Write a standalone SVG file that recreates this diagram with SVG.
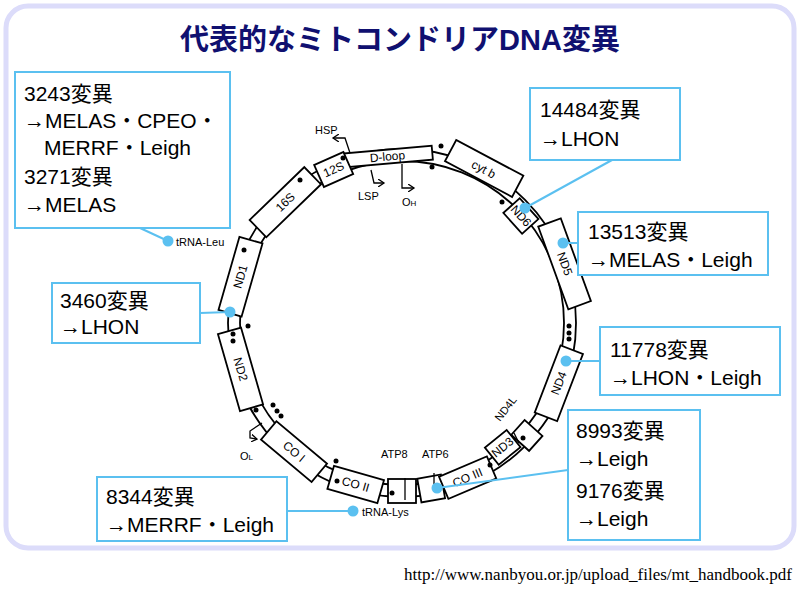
<svg xmlns="http://www.w3.org/2000/svg" width="800" height="589" viewBox="0 0 800 589">
<style>
.gene rect{fill:#fff;stroke:#000;stroke-width:1.8}
.gene text{font-family:"Liberation Sans",sans-serif;font-size:12px;text-anchor:middle}
.cb{fill:#fff;stroke:#5bc0f0;stroke-width:2}
.ct{font-family:"Liberation Sans","Noto Sans CJK JP",sans-serif;font-size:21px;fill:#000}
.ln{stroke:#5bc0f0;stroke-width:2;fill:none}
.dot{fill:#5bc0f0}
.sm{font-family:"Liberation Sans",sans-serif;font-size:11px}
.bd{fill:#000}
</style>
<defs>
<marker id="ah" markerWidth="8" markerHeight="8" refX="6" refY="4" orient="auto" markerUnits="userSpaceOnUse"><path d="M0,0 L6,4 L0,8" fill="none" stroke="#000" stroke-width="1.3"/></marker>
</defs>
<rect x="0" y="0" width="800" height="589" fill="#fff"/>
<rect x="6" y="6" width="788" height="542" rx="22" fill="#fff" stroke="#dcdcfa" stroke-width="5"/>
<text x="400" y="50" text-anchor="middle" font-family="'Liberation Sans','Noto Sans CJK JP',sans-serif" font-size="29" font-weight="bold" fill="#101070">代表的なミトコンドリアDNA変異</text>

<g id="ring" fill="none" stroke="#000" stroke-width="1.8">
<circle cx="402" cy="323" r="174"/>
<circle cx="402" cy="323" r="162"/>
</g>

<g id="genes">
<g class="gene" id="g-dloop" transform="rotate(355 402 323)"><rect x="357" y="149" width="90" height="14"/><text x="402" y="160">D-loop</text></g>
<g class="gene" id="g-12s" transform="rotate(336 402 323)"><rect x="386" y="143" width="32" height="24"/><text x="402" y="159">12S</text></g>
<g class="gene" id="g-16s" transform="rotate(316 402 323)"><rect x="364" y="143" width="76" height="24"/><text x="402" y="159">16S</text></g>
<g class="gene" id="g-nd1" transform="rotate(286 402 323)"><rect x="364" y="143" width="76" height="24"/><text x="402" y="159">ND1</text></g>
<g class="gene" id="g-nd2" transform="rotate(254 402 323)"><rect x="362" y="143" width="80" height="24"/><text x="402" y="159" transform="rotate(180 402 155)">ND2</text></g>
<g class="gene" id="g-co1" transform="rotate(220 402 323)"><rect x="369" y="143" width="66" height="24"/><text x="402" y="159" transform="rotate(180 402 155)">CO I</text></g>
<g class="gene" id="g-co2" transform="rotate(196 402 323)"><rect x="376" y="143" width="52" height="24"/><text x="402" y="159" transform="rotate(180 402 155)">CO II</text></g>
<g class="gene" id="g-atp8" transform="rotate(180 402 323)"><rect x="388" y="143" width="28" height="24"/></g>
<g class="gene" id="g-atp6" transform="rotate(170 402 323)"><rect x="390" y="143" width="24" height="24"/></g>
<g class="gene" id="g-co3" transform="rotate(157 402 323)"><rect x="376" y="143" width="52" height="24"/><text x="402" y="159" transform="rotate(180 402 155)">CO III</text></g>
<g class="gene" id="g-nd3" transform="rotate(141 402 323)"><rect x="388" y="152" width="28" height="22"/><text x="402" y="167" transform="rotate(180 402 163)">ND3</text></g>
<g class="gene" id="g-nd4l" transform="rotate(132 402 323)"><rect x="392" y="143" width="20" height="24"/></g>
<g class="gene" id="g-nd4" transform="rotate(111 402 323)"><rect x="366" y="143" width="72" height="24"/><text x="402" y="159" transform="rotate(180 402 155)">ND4</text></g>
<g class="gene" id="g-nd5" transform="rotate(70 402 323)"><rect x="358" y="138" width="88" height="24"/><text x="402" y="154">ND5</text></g>
<g class="gene" id="g-nd6" transform="rotate(48 402 323)"><rect x="388" y="152" width="28" height="22"/><text x="402" y="167">ND6</text></g>
<g class="gene" id="g-cytb" transform="rotate(28 402 323)"><rect x="364" y="136" width="76" height="24"/><text x="402" y="153" font-size="13">cyt b</text></g>
</g>

<g id="junctions" class="bd">
<circle cx="233" cy="334" r="2.5"/><circle cx="233" cy="341" r="2.5"/><circle cx="248" cy="326" r="2.5"/>
<circle cx="273" cy="405" r="2.5"/><circle cx="277" cy="411" r="2.5"/><circle cx="281" cy="416" r="2.5"/><circle cx="256" cy="410" r="2.5"/>
<circle cx="336" cy="461" r="2.5"/><circle cx="337" cy="481" r="2.5"/><circle cx="392" cy="493" r="2.5"/>
<circle cx="490" cy="465" r="2.5"/><circle cx="523" cy="438" r="2.5"/>
<circle cx="569" cy="326" r="2.5"/><circle cx="569" cy="333" r="2.5"/><circle cx="569" cy="339" r="2.5"/>
<circle cx="502" cy="202" r="2.5"/><circle cx="432" cy="167" r="2.5"/><circle cx="441" cy="146" r="2.5"/>
<circle cx="343" cy="158" r="2.5"/><circle cx="300" cy="180" r="2.5"/><circle cx="244" cy="250" r="2.5"/>
</g>

<g id="promoters" fill="none" stroke="#000" stroke-width="1.3">
<path d="M350,153 L345,138 L333,138" marker-end="url(#ah)"/>
<path d="M371,170 L374,183 L384,183" marker-end="url(#ah)"/>
<path d="M402,164 L402,188 L414,188" marker-end="url(#ah)"/>
<path d="M262,423 L250,431 L250,438 L257,439" marker-end="url(#ah)"/>
<path d="M405,478 L405,500"/><path d="M434,473 L434,492"/>
<path d="M514,433 L519,443"/>
</g>
<g id="smalllabels" class="sm">
<text x="315" y="134">HSP</text>
<text x="358" y="200">LSP</text>
<text x="402" y="206">O<tspan font-size="8">H</tspan></text>
<text x="240" y="460">O<tspan font-size="8">L</tspan></text>
<text x="381" y="458">ATP8</text>
<text x="422" y="458">ATP6</text>
<text x="500" y="422" transform="rotate(-52 500 422)">ND4L</text>
<text x="176" y="246">tRNA-Leu</text>
<text x="362" y="516">tRNA-Lys</text>
</g>

<g id="connectors">
<path class="ln" d="M168,241 L140,228"/>
<path class="ln" d="M612,160 L525,208"/>
<path class="ln" d="M578,243 L563,243"/>
<path class="ln" d="M200,313 L230,312"/>
<path class="ln" d="M600,361 L566,361"/>
<path class="ln" d="M568,470 L437,488"/>
<path class="ln" d="M287,511 L353,511"/>
<circle class="dot" cx="168" cy="241" r="5.5"/>
<circle class="dot" cx="525" cy="208" r="5.5"/>
<circle class="dot" cx="563" cy="243" r="5.5"/>
<circle class="dot" cx="230" cy="312" r="5.5"/>
<circle class="dot" cx="566" cy="361" r="5.5"/>
<circle class="dot" cx="437" cy="488" r="5.5"/>
<circle class="dot" cx="353" cy="511" r="5.5"/>
</g>

<g id="c3243"><rect class="cb" x="15" y="72" width="215" height="156"/>
<text class="ct" x="24" y="101">3243変異</text><text class="ct" x="24" y="128">→MELAS・CPEO・</text><text class="ct" x="44" y="155">MERRF・Leigh</text><text class="ct" x="24" y="184">3271変異</text><text class="ct" x="24" y="212">→MELAS</text></g>
<g id="c14484"><rect class="cb" x="530" y="88" width="150" height="72"/>
<text class="ct" x="540" y="117">14484変異</text><text class="ct" x="540" y="146">→LHON</text></g>
<g id="c13513"><rect class="cb" x="578" y="212" width="190" height="63"/>
<text class="ct" x="588" y="239">13513変異</text><text class="ct" x="588" y="267">→MELAS・Leigh</text></g>
<g id="c3460"><rect class="cb" x="52" y="283" width="148" height="60"/>
<text class="ct" x="60" y="308">3460変異</text><text class="ct" x="60" y="334">→LHON</text></g>
<g id="c11778"><rect class="cb" x="600" y="327" width="180" height="68"/>
<text class="ct" x="610" y="357">11778変異</text><text class="ct" x="610" y="385">→LHON・Leigh</text></g>
<g id="c8993"><rect class="cb" x="568" y="410" width="132" height="130"/>
<text class="ct" x="576" y="438">8993変異</text><text class="ct" x="576" y="466">→Leigh</text><text class="ct" x="576" y="498">9176変異</text><text class="ct" x="576" y="526">→Leigh</text></g>
<g id="c8344"><rect class="cb" x="97" y="477" width="190" height="64"/>
<text class="ct" x="106" y="504">8344変異</text><text class="ct" x="106" y="532">→MERRF・Leigh</text></g>

<text x="792" y="580" text-anchor="end" font-family="'Liberation Serif',serif" font-size="17">http://www.nanbyou.or.jp/upload_files/mt_handbook.pdf</text>
</svg>
